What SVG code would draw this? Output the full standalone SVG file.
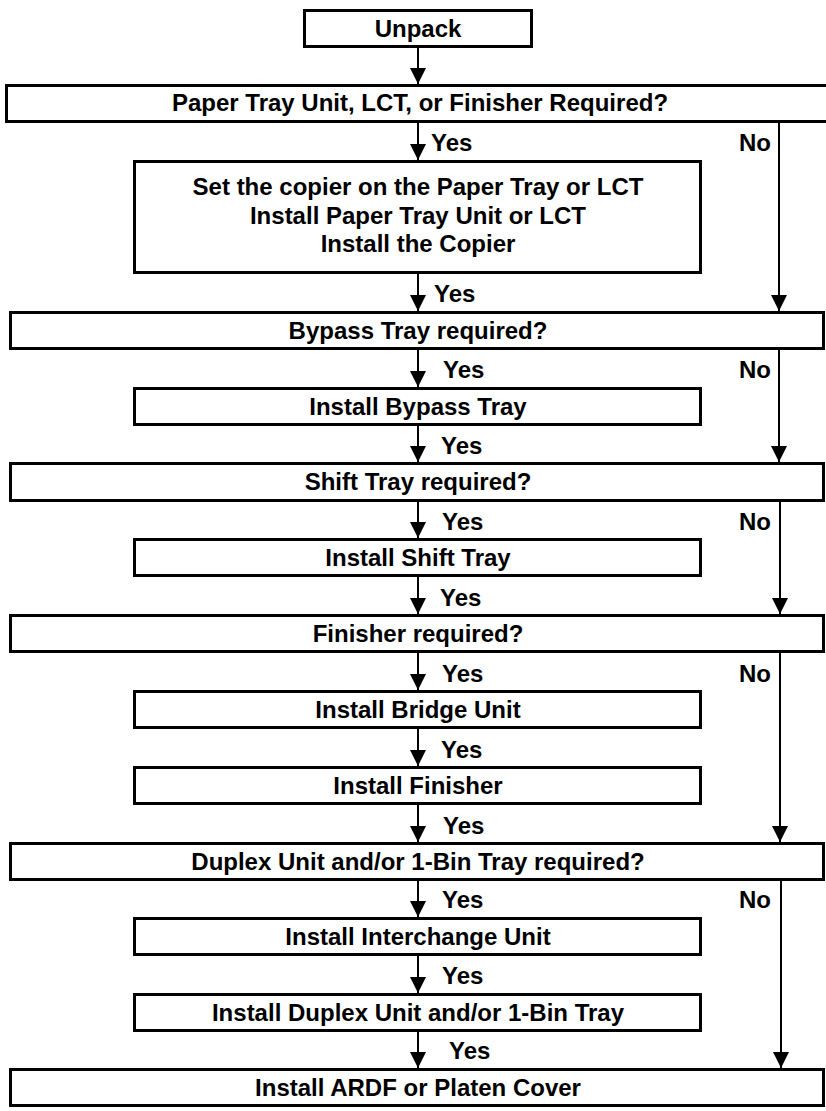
<svg xmlns="http://www.w3.org/2000/svg" width="826" height="1111" viewBox="0 0 826 1111">
<defs>
<marker id="ah" markerWidth="16" markerHeight="17" refX="16" refY="8" orient="auto" markerUnits="userSpaceOnUse">
<path d="M0,0 L16,8 L0,16 Z" fill="#000"/>
</marker>
<style>
.box{fill:#fff;stroke:#000;stroke-width:3}
.t{font-family:"Liberation Sans",Arial,sans-serif;font-weight:bold;font-size:24px;fill:#000;text-anchor:middle}
.l{font-family:"Liberation Sans",Arial,sans-serif;font-weight:bold;font-size:24px;fill:#000}
.c{fill:none;stroke:#000;stroke-width:2;marker-end:url(#ah)}
</style>
</defs>
<rect width="826" height="1111" fill="#fff"/>
<g id="connectors">
<line class="c" x1="418" y1="48" x2="418" y2="84"/>
<line class="c" x1="418" y1="123" x2="418" y2="160"/>
<line class="c" x1="418" y1="274" x2="418" y2="311"/>
<line class="c" x1="418" y1="350" x2="418" y2="387"/>
<line class="c" x1="418" y1="426" x2="418" y2="462"/>
<line class="c" x1="418" y1="502" x2="418" y2="538"/>
<line class="c" x1="418" y1="577" x2="418" y2="614"/>
<line class="c" x1="418" y1="653" x2="418" y2="690"/>
<line class="c" x1="418" y1="729" x2="418" y2="766"/>
<line class="c" x1="418" y1="805" x2="418" y2="842"/>
<line class="c" x1="418" y1="881" x2="418" y2="917"/>
<line class="c" x1="418" y1="956" x2="418" y2="993"/>
<line class="c" x1="418" y1="1032" x2="418" y2="1068"/>
<line class="c" x1="779" y1="123" x2="779" y2="311"/>
<line class="c" x1="779" y1="350" x2="779" y2="462"/>
<line class="c" x1="780" y1="502" x2="780" y2="614"/>
<line class="c" x1="780" y1="653" x2="780" y2="842"/>
<line class="c" x1="781" y1="881" x2="781" y2="1068"/>
<g id="labels">
<text class="l" x="431" y="151">Yes</text>
<text class="l" x="434" y="302">Yes</text>
<text class="l" x="443" y="378">Yes</text>
<text class="l" x="441" y="454">Yes</text>
<text class="l" x="442" y="530">Yes</text>
<text class="l" x="440" y="606">Yes</text>
<text class="l" x="442" y="682">Yes</text>
<text class="l" x="441" y="758">Yes</text>
<text class="l" x="443" y="834">Yes</text>
<text class="l" x="442" y="908">Yes</text>
<text class="l" x="442" y="984">Yes</text>
<text class="l" x="449" y="1059">Yes</text>
<text class="l" x="771" y="151" text-anchor="end">No</text>
<text class="l" x="771" y="378" text-anchor="end">No</text>
<text class="l" x="771" y="530" text-anchor="end">No</text>
<text class="l" x="771" y="682" text-anchor="end">No</text>
<text class="l" x="771" y="908" text-anchor="end">No</text>
</g>
</g>
<g id="unpack"><rect class="box" x="304.5" y="10.5" width="227" height="36"/><text class="t" x="418" y="37">Unpack</text></g>
<g id="d1"><rect class="box" x="6.5" y="85.5" width="822" height="36"/><text class="t" x="420" y="111">Paper Tray Unit, LCT, or Finisher Required?</text></g>
<g id="set"><rect class="box" x="134.5" y="161.5" width="566" height="111"/>
<text class="t" x="418" y="195">Set the copier on the Paper Tray or LCT</text>
<text class="t" x="418" y="224">Install Paper Tray Unit or LCT</text>
<text class="t" x="418" y="252">Install the Copier</text></g>
<g id="d2"><rect class="box" x="10.5" y="312.5" width="813" height="36"/><text class="t" x="418" y="339">Bypass Tray required?</text></g>
<g id="b2"><rect class="box" x="134.5" y="388.5" width="566" height="36"/><text class="t" x="418" y="415">Install Bypass Tray</text></g>
<g id="d3"><rect class="box" x="10.5" y="463.5" width="813" height="37"/><text class="t" x="418" y="490">Shift Tray required?</text></g>
<g id="b3"><rect class="box" x="134.5" y="539.5" width="566" height="36"/><text class="t" x="418" y="566">Install Shift Tray</text></g>
<g id="d4"><rect class="box" x="10.5" y="615.5" width="813" height="36"/><text class="t" x="418" y="642">Finisher required?</text></g>
<g id="b4"><rect class="box" x="134.5" y="691.5" width="566" height="36"/><text class="t" x="418" y="718">Install Bridge Unit</text></g>
<g id="b5"><rect class="box" x="134.5" y="767.5" width="566" height="36"/><text class="t" x="418" y="794">Install Finisher</text></g>
<g id="d5"><rect class="box" x="10.5" y="843.5" width="813" height="36"/><text class="t" x="418" y="870">Duplex Unit and/or 1-Bin Tray required?</text></g>
<g id="b6"><rect class="box" x="134.5" y="918.5" width="566" height="36"/><text class="t" x="418" y="945">Install Interchange Unit</text></g>
<g id="b7"><rect class="box" x="134.5" y="994.5" width="566" height="36"/><text class="t" x="418" y="1021">Install Duplex Unit and/or 1-Bin Tray</text></g>
<g id="d6"><rect class="box" x="10.5" y="1069.5" width="813" height="36"/><text class="t" x="418" y="1096">Install ARDF or Platen Cover</text></g>
</svg>
